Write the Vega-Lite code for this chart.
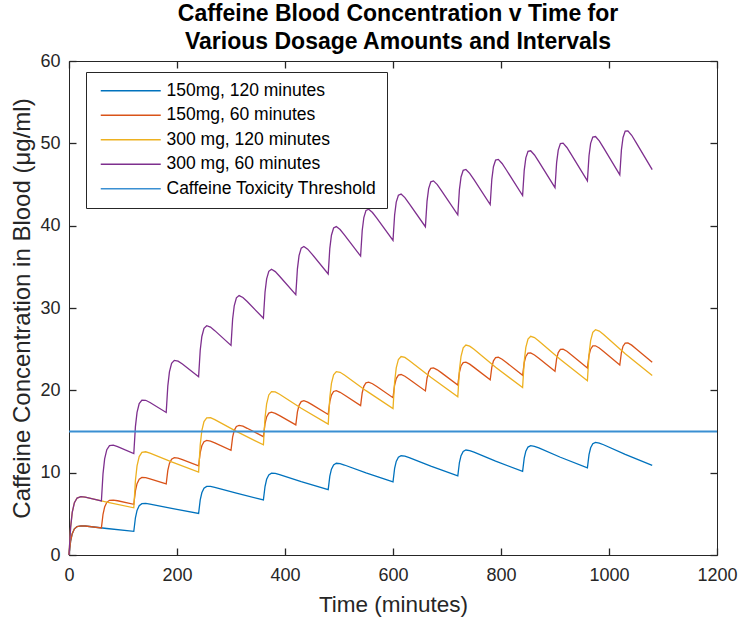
{
"$schema":"https://vega.github.io/schema/vega-lite/v6.json",
"width":648,"height":494,
"autosize":{"type":"none"},
"padding":{"left":69,"top":61,"right":26,"bottom":68},
"background":"#ffffff",
"title":{"text":["Caffeine Blood Concentration v Time for","Various Dosage Amounts and Intervals"],"anchor":"middle","font":"Liberation Sans","fontSize":23,"fontWeight":"bold","color":"#000000","lineHeight":27.6,"offset":-2,"dx":5},
"datasets":{
"blue":[{"s":"150mg, 120 minutes","t":0,"c":0},{"s":"150mg, 120 minutes","t":3,"c":1.68},{"s":"150mg, 120 minutes","t":6,"c":2.59},{"s":"150mg, 120 minutes","t":10,"c":3.18},{"s":"150mg, 120 minutes","t":15,"c":3.46},{"s":"150mg, 120 minutes","t":22,"c":3.54},{"s":"150mg, 120 minutes","t":30,"c":3.52},{"s":"150mg, 120 minutes","t":70,"c":3.22},
{"s":"150mg, 120 minutes","t":120,"c":2.87},{"s":"150mg, 120 minutes","t":123,"c":4.52},{"s":"150mg, 120 minutes","t":126,"c":5.41},{"s":"150mg, 120 minutes","t":130,"c":5.98},{"s":"150mg, 120 minutes","t":135,"c":6.23},{"s":"150mg, 120 minutes","t":142,"c":6.27},{"s":"150mg, 120 minutes","t":150,"c":6.19},{"s":"150mg, 120 minutes","t":190,"c":5.66},
{"s":"150mg, 120 minutes","t":240,"c":5.04},{"s":"150mg, 120 minutes","t":243,"c":6.69},{"s":"150mg, 120 minutes","t":246,"c":7.56},{"s":"150mg, 120 minutes","t":250,"c":8.11},{"s":"150mg, 120 minutes","t":255,"c":8.33},{"s":"150mg, 120 minutes","t":262,"c":8.34},{"s":"150mg, 120 minutes","t":270,"c":8.22},{"s":"150mg, 120 minutes","t":310,"c":7.51},
{"s":"150mg, 120 minutes","t":360,"c":6.69},{"s":"150mg, 120 minutes","t":363,"c":8.32},{"s":"150mg, 120 minutes","t":366,"c":9.19},{"s":"150mg, 120 minutes","t":370,"c":9.72},{"s":"150mg, 120 minutes","t":375,"c":9.93},{"s":"150mg, 120 minutes","t":382,"c":9.91},{"s":"150mg, 120 minutes","t":390,"c":9.76},{"s":"150mg, 120 minutes","t":430,"c":8.91},
{"s":"150mg, 120 minutes","t":480,"c":7.94},{"s":"150mg, 120 minutes","t":483,"c":9.57},{"s":"150mg, 120 minutes","t":486,"c":10.42},{"s":"150mg, 120 minutes","t":490,"c":10.94},{"s":"150mg, 120 minutes","t":495,"c":11.14},{"s":"150mg, 120 minutes","t":502,"c":11.10},{"s":"150mg, 120 minutes","t":510,"c":10.93},{"s":"150mg, 120 minutes","t":550,"c":9.98},
{"s":"150mg, 120 minutes","t":600,"c":8.89},{"s":"150mg, 120 minutes","t":603,"c":10.51},{"s":"150mg, 120 minutes","t":606,"c":11.36},{"s":"150mg, 120 minutes","t":610,"c":11.87},{"s":"150mg, 120 minutes","t":615,"c":12.05},{"s":"150mg, 120 minutes","t":622,"c":12.00},{"s":"150mg, 120 minutes","t":630,"c":11.82},{"s":"150mg, 120 minutes","t":670,"c":10.79},
{"s":"150mg, 120 minutes","t":720,"c":9.62},{"s":"150mg, 120 minutes","t":723,"c":11.23},{"s":"150mg, 120 minutes","t":726,"c":12.07},{"s":"150mg, 120 minutes","t":730,"c":12.58},{"s":"150mg, 120 minutes","t":735,"c":12.75},{"s":"150mg, 120 minutes","t":742,"c":12.68},{"s":"150mg, 120 minutes","t":750,"c":12.49},{"s":"150mg, 120 minutes","t":790,"c":11.40},
{"s":"150mg, 120 minutes","t":840,"c":10.16},{"s":"150mg, 120 minutes","t":843,"c":11.77},{"s":"150mg, 120 minutes","t":846,"c":12.61},{"s":"150mg, 120 minutes","t":850,"c":13.11},{"s":"150mg, 120 minutes","t":855,"c":13.28},{"s":"150mg, 120 minutes","t":862,"c":13.20},{"s":"150mg, 120 minutes","t":870,"c":13.00},{"s":"150mg, 120 minutes","t":910,"c":11.87},
{"s":"150mg, 120 minutes","t":960,"c":10.58},{"s":"150mg, 120 minutes","t":963,"c":12.18},{"s":"150mg, 120 minutes","t":966,"c":13.02},{"s":"150mg, 120 minutes","t":970,"c":13.52},{"s":"150mg, 120 minutes","t":975,"c":13.68},{"s":"150mg, 120 minutes","t":982,"c":13.60},{"s":"150mg, 120 minutes","t":990,"c":13.39},{"s":"150mg, 120 minutes","t":1030,"c":12.22},
{"s":"150mg, 120 minutes","t":1080,"c":10.89}],
"orange":[{"s":"150mg, 60 minutes","t":0,"c":0},{"s":"150mg, 60 minutes","t":3,"c":1.68},{"s":"150mg, 60 minutes","t":6,"c":2.59},{"s":"150mg, 60 minutes","t":10,"c":3.18},{"s":"150mg, 60 minutes","t":15,"c":3.46},{"s":"150mg, 60 minutes","t":22,"c":3.54},{"s":"150mg, 60 minutes","t":30,"c":3.52},
{"s":"150mg, 60 minutes","t":60,"c":3.29},{"s":"150mg, 60 minutes","t":63,"c":4.95},{"s":"150mg, 60 minutes","t":66,"c":5.83},{"s":"150mg, 60 minutes","t":70,"c":6.40},{"s":"150mg, 60 minutes","t":75,"c":6.64},{"s":"150mg, 60 minutes","t":82,"c":6.67},{"s":"150mg, 60 minutes","t":90,"c":6.59},
{"s":"150mg, 60 minutes","t":120,"c":6.16},{"s":"150mg, 60 minutes","t":123,"c":7.79},{"s":"150mg, 60 minutes","t":126,"c":8.66},{"s":"150mg, 60 minutes","t":130,"c":9.20},{"s":"150mg, 60 minutes","t":135,"c":9.41},{"s":"150mg, 60 minutes","t":142,"c":9.40},{"s":"150mg, 60 minutes","t":150,"c":9.26},
{"s":"150mg, 60 minutes","t":180,"c":8.65},{"s":"150mg, 60 minutes","t":183,"c":10.27},{"s":"150mg, 60 minutes","t":186,"c":11.12},{"s":"150mg, 60 minutes","t":190,"c":11.64},{"s":"150mg, 60 minutes","t":195,"c":11.82},{"s":"150mg, 60 minutes","t":202,"c":11.77},{"s":"150mg, 60 minutes","t":210,"c":11.59},
{"s":"150mg, 60 minutes","t":240,"c":10.83},{"s":"150mg, 60 minutes","t":243,"c":12.43},{"s":"150mg, 60 minutes","t":246,"c":13.27},{"s":"150mg, 60 minutes","t":250,"c":13.76},{"s":"150mg, 60 minutes","t":255,"c":13.92},{"s":"150mg, 60 minutes","t":262,"c":13.84},{"s":"150mg, 60 minutes","t":270,"c":13.62},
{"s":"150mg, 60 minutes","t":300,"c":12.72},{"s":"150mg, 60 minutes","t":303,"c":14.31},{"s":"150mg, 60 minutes","t":306,"c":15.14},{"s":"150mg, 60 minutes","t":310,"c":15.62},{"s":"150mg, 60 minutes","t":315,"c":15.75},{"s":"150mg, 60 minutes","t":322,"c":15.64},{"s":"150mg, 60 minutes","t":330,"c":15.39},
{"s":"150mg, 60 minutes","t":360,"c":14.37},{"s":"150mg, 60 minutes","t":363,"c":15.95},{"s":"150mg, 60 minutes","t":366,"c":16.77},{"s":"150mg, 60 minutes","t":370,"c":17.23},{"s":"150mg, 60 minutes","t":375,"c":17.35},{"s":"150mg, 60 minutes","t":382,"c":17.21},{"s":"150mg, 60 minutes","t":390,"c":16.93},
{"s":"150mg, 60 minutes","t":420,"c":15.81},{"s":"150mg, 60 minutes","t":423,"c":17.38},{"s":"150mg, 60 minutes","t":426,"c":18.18},{"s":"150mg, 60 minutes","t":430,"c":18.63},{"s":"150mg, 60 minutes","t":435,"c":18.74},{"s":"150mg, 60 minutes","t":442,"c":18.57},{"s":"150mg, 60 minutes","t":450,"c":18.27},
{"s":"150mg, 60 minutes","t":480,"c":17.06},{"s":"150mg, 60 minutes","t":483,"c":18.62},{"s":"150mg, 60 minutes","t":486,"c":19.42},{"s":"150mg, 60 minutes","t":490,"c":19.86},{"s":"150mg, 60 minutes","t":495,"c":19.95},{"s":"150mg, 60 minutes","t":502,"c":19.76},{"s":"150mg, 60 minutes","t":510,"c":19.44},
{"s":"150mg, 60 minutes","t":540,"c":18.15},{"s":"150mg, 60 minutes","t":543,"c":19.71},{"s":"150mg, 60 minutes","t":546,"c":20.49},{"s":"150mg, 60 minutes","t":550,"c":20.92},{"s":"150mg, 60 minutes","t":555,"c":21.00},{"s":"150mg, 60 minutes","t":562,"c":20.80},{"s":"150mg, 60 minutes","t":570,"c":20.46},
{"s":"150mg, 60 minutes","t":600,"c":19.11},{"s":"150mg, 60 minutes","t":603,"c":20.65},{"s":"150mg, 60 minutes","t":606,"c":21.43},{"s":"150mg, 60 minutes","t":610,"c":21.85},{"s":"150mg, 60 minutes","t":615,"c":21.92},{"s":"150mg, 60 minutes","t":622,"c":21.71},{"s":"150mg, 60 minutes","t":630,"c":21.35},
{"s":"150mg, 60 minutes","t":660,"c":19.93},{"s":"150mg, 60 minutes","t":663,"c":21.47},{"s":"150mg, 60 minutes","t":666,"c":22.25},{"s":"150mg, 60 minutes","t":670,"c":22.66},{"s":"150mg, 60 minutes","t":675,"c":22.72},{"s":"150mg, 60 minutes","t":682,"c":22.49},{"s":"150mg, 60 minutes","t":690,"c":22.12},
{"s":"150mg, 60 minutes","t":720,"c":20.65},{"s":"150mg, 60 minutes","t":723,"c":22.19},{"s":"150mg, 60 minutes","t":726,"c":22.96},{"s":"150mg, 60 minutes","t":730,"c":23.37},{"s":"150mg, 60 minutes","t":735,"c":23.42},{"s":"150mg, 60 minutes","t":742,"c":23.18},{"s":"150mg, 60 minutes","t":750,"c":22.79},
{"s":"150mg, 60 minutes","t":780,"c":21.28},{"s":"150mg, 60 minutes","t":783,"c":22.81},{"s":"150mg, 60 minutes","t":786,"c":23.58},{"s":"150mg, 60 minutes","t":790,"c":23.98},{"s":"150mg, 60 minutes","t":795,"c":24.02},{"s":"150mg, 60 minutes","t":802,"c":23.78},{"s":"150mg, 60 minutes","t":810,"c":23.38},
{"s":"150mg, 60 minutes","t":840,"c":21.83},{"s":"150mg, 60 minutes","t":843,"c":23.36},{"s":"150mg, 60 minutes","t":846,"c":24.12},{"s":"150mg, 60 minutes","t":850,"c":24.51},{"s":"150mg, 60 minutes","t":855,"c":24.55},{"s":"150mg, 60 minutes","t":862,"c":24.30},{"s":"150mg, 60 minutes","t":870,"c":23.89},
{"s":"150mg, 60 minutes","t":900,"c":22.31},{"s":"150mg, 60 minutes","t":903,"c":23.83},{"s":"150mg, 60 minutes","t":906,"c":24.59},{"s":"150mg, 60 minutes","t":910,"c":24.98},{"s":"150mg, 60 minutes","t":915,"c":25.01},{"s":"150mg, 60 minutes","t":922,"c":24.75},{"s":"150mg, 60 minutes","t":930,"c":24.33},
{"s":"150mg, 60 minutes","t":960,"c":22.72},{"s":"150mg, 60 minutes","t":963,"c":24.24},{"s":"150mg, 60 minutes","t":966,"c":25.00},{"s":"150mg, 60 minutes","t":970,"c":25.39},{"s":"150mg, 60 minutes","t":975,"c":25.41},{"s":"150mg, 60 minutes","t":982,"c":25.14},{"s":"150mg, 60 minutes","t":990,"c":24.72},
{"s":"150mg, 60 minutes","t":1020,"c":23.08},{"s":"150mg, 60 minutes","t":1023,"c":24.60},{"s":"150mg, 60 minutes","t":1026,"c":25.36},{"s":"150mg, 60 minutes","t":1030,"c":25.74},{"s":"150mg, 60 minutes","t":1035,"c":25.76},{"s":"150mg, 60 minutes","t":1042,"c":25.49},{"s":"150mg, 60 minutes","t":1050,"c":25.06},
{"s":"150mg, 60 minutes","t":1080,"c":23.40}],
"yellow":[{"s":"300 mg, 120 minutes","t":0,"c":0},{"s":"300 mg, 120 minutes","t":3,"c":3.36},{"s":"300 mg, 120 minutes","t":6,"c":5.18},{"s":"300 mg, 120 minutes","t":10,"c":6.36},{"s":"300 mg, 120 minutes","t":15,"c":6.92},{"s":"300 mg, 120 minutes","t":22,"c":7.09},{"s":"300 mg, 120 minutes","t":30,"c":7.03},{"s":"300 mg, 120 minutes","t":70,"c":6.43},
{"s":"300 mg, 120 minutes","t":120,"c":5.73},{"s":"300 mg, 120 minutes","t":123,"c":9.05},{"s":"300 mg, 120 minutes","t":126,"c":10.83},{"s":"300 mg, 120 minutes","t":130,"c":11.96},{"s":"300 mg, 120 minutes","t":135,"c":12.46},{"s":"300 mg, 120 minutes","t":142,"c":12.54},{"s":"300 mg, 120 minutes","t":150,"c":12.38},{"s":"300 mg, 120 minutes","t":190,"c":11.31},
{"s":"300 mg, 120 minutes","t":240,"c":10.08},{"s":"300 mg, 120 minutes","t":243,"c":13.37},{"s":"300 mg, 120 minutes","t":246,"c":15.12},{"s":"300 mg, 120 minutes","t":250,"c":16.21},{"s":"300 mg, 120 minutes","t":255,"c":16.66},{"s":"300 mg, 120 minutes","t":262,"c":16.67},{"s":"300 mg, 120 minutes","t":270,"c":16.44},{"s":"300 mg, 120 minutes","t":310,"c":15.01},
{"s":"300 mg, 120 minutes","t":360,"c":13.38},{"s":"300 mg, 120 minutes","t":363,"c":16.65},{"s":"300 mg, 120 minutes","t":366,"c":18.37},{"s":"300 mg, 120 minutes","t":370,"c":19.44},{"s":"300 mg, 120 minutes","t":375,"c":19.85},{"s":"300 mg, 120 minutes","t":382,"c":19.81},{"s":"300 mg, 120 minutes","t":390,"c":19.52},{"s":"300 mg, 120 minutes","t":430,"c":17.82},
{"s":"300 mg, 120 minutes","t":480,"c":15.89},{"s":"300 mg, 120 minutes","t":483,"c":19.14},{"s":"300 mg, 120 minutes","t":486,"c":20.84},{"s":"300 mg, 120 minutes","t":490,"c":21.89},{"s":"300 mg, 120 minutes","t":495,"c":22.27},{"s":"300 mg, 120 minutes","t":502,"c":22.19},{"s":"300 mg, 120 minutes","t":510,"c":21.86},{"s":"300 mg, 120 minutes","t":550,"c":19.96},
{"s":"300 mg, 120 minutes","t":600,"c":17.79},{"s":"300 mg, 120 minutes","t":603,"c":21.02},{"s":"300 mg, 120 minutes","t":606,"c":22.72},{"s":"300 mg, 120 minutes","t":610,"c":23.75},{"s":"300 mg, 120 minutes","t":615,"c":24.11},{"s":"300 mg, 120 minutes","t":622,"c":24.00},{"s":"300 mg, 120 minutes","t":630,"c":23.63},{"s":"300 mg, 120 minutes","t":670,"c":21.58},
{"s":"300 mg, 120 minutes","t":720,"c":19.23},{"s":"300 mg, 120 minutes","t":723,"c":22.45},{"s":"300 mg, 120 minutes","t":726,"c":24.14},{"s":"300 mg, 120 minutes","t":730,"c":25.16},{"s":"300 mg, 120 minutes","t":735,"c":25.50},{"s":"300 mg, 120 minutes","t":742,"c":25.37},{"s":"300 mg, 120 minutes","t":750,"c":24.98},{"s":"300 mg, 120 minutes","t":790,"c":22.80},
{"s":"300 mg, 120 minutes","t":840,"c":20.33},{"s":"300 mg, 120 minutes","t":843,"c":23.54},{"s":"300 mg, 120 minutes","t":846,"c":25.22},{"s":"300 mg, 120 minutes","t":850,"c":26.23},{"s":"300 mg, 120 minutes","t":855,"c":26.56},{"s":"300 mg, 120 minutes","t":862,"c":26.41},{"s":"300 mg, 120 minutes","t":870,"c":26.00},{"s":"300 mg, 120 minutes","t":910,"c":23.74},
{"s":"300 mg, 120 minutes","t":960,"c":21.16},{"s":"300 mg, 120 minutes","t":963,"c":24.37},{"s":"300 mg, 120 minutes","t":966,"c":26.04},{"s":"300 mg, 120 minutes","t":970,"c":27.04},{"s":"300 mg, 120 minutes","t":975,"c":27.36},{"s":"300 mg, 120 minutes","t":982,"c":27.20},{"s":"300 mg, 120 minutes","t":990,"c":26.78},{"s":"300 mg, 120 minutes","t":1030,"c":24.44},
{"s":"300 mg, 120 minutes","t":1080,"c":21.79}],
"purple":[{"s":"300 mg, 60 minutes","t":0,"c":0},{"s":"300 mg, 60 minutes","t":3,"c":3.36},{"s":"300 mg, 60 minutes","t":6,"c":5.18},{"s":"300 mg, 60 minutes","t":10,"c":6.36},{"s":"300 mg, 60 minutes","t":15,"c":6.92},{"s":"300 mg, 60 minutes","t":22,"c":7.09},{"s":"300 mg, 60 minutes","t":30,"c":7.03},
{"s":"300 mg, 60 minutes","t":60,"c":6.58},{"s":"300 mg, 60 minutes","t":63,"c":9.89},{"s":"300 mg, 60 minutes","t":66,"c":11.67},{"s":"300 mg, 60 minutes","t":70,"c":12.79},{"s":"300 mg, 60 minutes","t":75,"c":13.28},{"s":"300 mg, 60 minutes","t":82,"c":13.34},{"s":"300 mg, 60 minutes","t":90,"c":13.17},
{"s":"300 mg, 60 minutes","t":120,"c":12.31},{"s":"300 mg, 60 minutes","t":123,"c":15.59},{"s":"300 mg, 60 minutes","t":126,"c":17.32},{"s":"300 mg, 60 minutes","t":130,"c":18.40},{"s":"300 mg, 60 minutes","t":135,"c":18.82},{"s":"300 mg, 60 minutes","t":142,"c":18.79},{"s":"300 mg, 60 minutes","t":150,"c":18.52},
{"s":"300 mg, 60 minutes","t":180,"c":17.31},{"s":"300 mg, 60 minutes","t":183,"c":20.55},{"s":"300 mg, 60 minutes","t":186,"c":22.25},{"s":"300 mg, 60 minutes","t":190,"c":23.28},{"s":"300 mg, 60 minutes","t":195,"c":23.64},{"s":"300 mg, 60 minutes","t":202,"c":23.54},{"s":"300 mg, 60 minutes","t":210,"c":23.19},
{"s":"300 mg, 60 minutes","t":240,"c":21.66},{"s":"300 mg, 60 minutes","t":243,"c":24.87},{"s":"300 mg, 60 minutes","t":246,"c":26.54},{"s":"300 mg, 60 minutes","t":250,"c":27.53},{"s":"300 mg, 60 minutes","t":255,"c":27.85},{"s":"300 mg, 60 minutes","t":262,"c":27.68},{"s":"300 mg, 60 minutes","t":270,"c":27.25},
{"s":"300 mg, 60 minutes","t":300,"c":25.45},{"s":"300 mg, 60 minutes","t":303,"c":28.63},{"s":"300 mg, 60 minutes","t":306,"c":30.27},{"s":"300 mg, 60 minutes","t":310,"c":31.23},{"s":"300 mg, 60 minutes","t":315,"c":31.51},{"s":"300 mg, 60 minutes","t":322,"c":31.28},{"s":"300 mg, 60 minutes","t":330,"c":30.78},
{"s":"300 mg, 60 minutes","t":360,"c":28.75},{"s":"300 mg, 60 minutes","t":363,"c":31.91},{"s":"300 mg, 60 minutes","t":366,"c":33.53},{"s":"300 mg, 60 minutes","t":370,"c":34.46},{"s":"300 mg, 60 minutes","t":375,"c":34.70},{"s":"300 mg, 60 minutes","t":382,"c":34.42},{"s":"300 mg, 60 minutes","t":390,"c":33.86},
{"s":"300 mg, 60 minutes","t":420,"c":31.62},{"s":"300 mg, 60 minutes","t":423,"c":34.76},{"s":"300 mg, 60 minutes","t":426,"c":36.37},{"s":"300 mg, 60 minutes","t":430,"c":37.27},{"s":"300 mg, 60 minutes","t":435,"c":37.47},{"s":"300 mg, 60 minutes","t":442,"c":37.15},{"s":"300 mg, 60 minutes","t":450,"c":36.55},
{"s":"300 mg, 60 minutes","t":480,"c":34.13},{"s":"300 mg, 60 minutes","t":483,"c":37.25},{"s":"300 mg, 60 minutes","t":486,"c":38.84},{"s":"300 mg, 60 minutes","t":490,"c":39.71},{"s":"300 mg, 60 minutes","t":495,"c":39.89},{"s":"300 mg, 60 minutes","t":502,"c":39.53},{"s":"300 mg, 60 minutes","t":510,"c":38.88},
{"s":"300 mg, 60 minutes","t":540,"c":36.31},{"s":"300 mg, 60 minutes","t":543,"c":39.42},{"s":"300 mg, 60 minutes","t":546,"c":40.99},{"s":"300 mg, 60 minutes","t":550,"c":41.85},{"s":"300 mg, 60 minutes","t":555,"c":42.00},{"s":"300 mg, 60 minutes","t":562,"c":41.60},{"s":"300 mg, 60 minutes","t":570,"c":40.92},
{"s":"300 mg, 60 minutes","t":600,"c":38.21},{"s":"300 mg, 60 minutes","t":603,"c":41.30},{"s":"300 mg, 60 minutes","t":606,"c":42.86},{"s":"300 mg, 60 minutes","t":610,"c":43.70},{"s":"300 mg, 60 minutes","t":615,"c":43.84},{"s":"300 mg, 60 minutes","t":622,"c":43.41},{"s":"300 mg, 60 minutes","t":630,"c":42.69},
{"s":"300 mg, 60 minutes","t":660,"c":39.87},{"s":"300 mg, 60 minutes","t":663,"c":42.95},{"s":"300 mg, 60 minutes","t":666,"c":44.50},{"s":"300 mg, 60 minutes","t":670,"c":45.32},{"s":"300 mg, 60 minutes","t":675,"c":45.44},{"s":"300 mg, 60 minutes","t":682,"c":44.99},{"s":"300 mg, 60 minutes","t":690,"c":44.24},
{"s":"300 mg, 60 minutes","t":720,"c":41.31},{"s":"300 mg, 60 minutes","t":723,"c":44.38},{"s":"300 mg, 60 minutes","t":726,"c":45.92},{"s":"300 mg, 60 minutes","t":730,"c":46.73},{"s":"300 mg, 60 minutes","t":735,"c":46.83},{"s":"300 mg, 60 minutes","t":742,"c":46.36},{"s":"300 mg, 60 minutes","t":750,"c":45.59},
{"s":"300 mg, 60 minutes","t":780,"c":42.57},{"s":"300 mg, 60 minutes","t":783,"c":45.63},{"s":"300 mg, 60 minutes","t":786,"c":47.16},{"s":"300 mg, 60 minutes","t":790,"c":47.96},{"s":"300 mg, 60 minutes","t":795,"c":48.05},{"s":"300 mg, 60 minutes","t":802,"c":47.55},{"s":"300 mg, 60 minutes","t":810,"c":46.76},
{"s":"300 mg, 60 minutes","t":840,"c":43.66},{"s":"300 mg, 60 minutes","t":843,"c":46.72},{"s":"300 mg, 60 minutes","t":846,"c":48.24},{"s":"300 mg, 60 minutes","t":850,"c":49.03},{"s":"300 mg, 60 minutes","t":855,"c":49.10},{"s":"300 mg, 60 minutes","t":862,"c":48.59},{"s":"300 mg, 60 minutes","t":870,"c":47.78},
{"s":"300 mg, 60 minutes","t":900,"c":44.61},{"s":"300 mg, 60 minutes","t":903,"c":47.66},{"s":"300 mg, 60 minutes","t":906,"c":49.18},{"s":"300 mg, 60 minutes","t":910,"c":49.96},{"s":"300 mg, 60 minutes","t":915,"c":50.02},{"s":"300 mg, 60 minutes","t":922,"c":49.50},{"s":"300 mg, 60 minutes","t":930,"c":48.67},
{"s":"300 mg, 60 minutes","t":960,"c":45.44},{"s":"300 mg, 60 minutes","t":963,"c":48.49},{"s":"300 mg, 60 minutes","t":966,"c":50.00},{"s":"300 mg, 60 minutes","t":970,"c":50.77},{"s":"300 mg, 60 minutes","t":975,"c":50.83},{"s":"300 mg, 60 minutes","t":982,"c":50.29},{"s":"300 mg, 60 minutes","t":990,"c":49.44},
{"s":"300 mg, 60 minutes","t":1020,"c":46.17},{"s":"300 mg, 60 minutes","t":1023,"c":49.21},{"s":"300 mg, 60 minutes","t":1026,"c":50.71},{"s":"300 mg, 60 minutes","t":1030,"c":51.48},{"s":"300 mg, 60 minutes","t":1035,"c":51.52},{"s":"300 mg, 60 minutes","t":1042,"c":50.98},{"s":"300 mg, 60 minutes","t":1050,"c":50.12},
{"s":"300 mg, 60 minutes","t":1080,"c":46.80}],
"threshold":[{"s":"Caffeine Toxicity Threshold","t":0,"c":15},{"s":"Caffeine Toxicity Threshold","t":1200,"c":15}]
},
"layer":[
{"data":{"name":"blue"},"mark":{"type":"line","strokeWidth":1.3},
 "encoding":{
  "x":{"field":"t","type":"quantitative","scale":{"domain":[0,1200],"nice":false},"axis":{"orient":"bottom","values":[0,200,400,600,800,1000,1200],"format":"d","labelPadding":18,"title":"Time (minutes)","titleFontSize":22.5,"titlePadding":9}},
  "y":{"field":"c","type":"quantitative","scale":{"domain":[0,60],"nice":false},"axis":{"orient":"left","values":[0,10,20,30,40,50,60],"format":"d","title":"Caffeine Concentration in Blood (μg/ml)","titleFontSize":24,"titlePadding":5}},
  "color":{"field":"s","type":"nominal","title":null,"scale":{"domain":["150mg, 120 minutes","150mg, 60 minutes","300 mg, 120 minutes","300 mg, 60 minutes","Caffeine Toxicity Threshold"],"range":["#0072BD","#D95319","#EDB120","#7E2F8E","#3A8FD2"]}}}},
{"data":{"name":"orange"},"mark":{"type":"line","strokeWidth":1.3},
 "encoding":{
  "x":{"field":"t","type":"quantitative","axis":null},
  "y":{"field":"c","type":"quantitative","axis":null},
  "color":{"field":"s","type":"nominal","title":null}}},
{"data":{"name":"yellow"},"mark":{"type":"line","strokeWidth":1.3},
 "encoding":{
  "x":{"field":"t","type":"quantitative","axis":null},
  "y":{"field":"c","type":"quantitative","axis":null},
  "color":{"field":"s","type":"nominal","title":null}}},
{"data":{"name":"purple"},"mark":{"type":"line","strokeWidth":1.3},
 "encoding":{
  "x":{"field":"t","type":"quantitative","axis":null},
  "y":{"field":"c","type":"quantitative","axis":null},
  "color":{"field":"s","type":"nominal","title":null}}},
{"data":{"name":"threshold"},"mark":{"type":"line","strokeWidth":2},
 "encoding":{
  "x":{"field":"t","type":"quantitative","axis":{"orient":"top","values":[0,200,400,600,800,1000,1200],"labels":false,"title":null}},
  "y":{"field":"c","type":"quantitative","axis":{"orient":"right","values":[0,10,20,30,40,50,60],"labels":false,"title":null}},
  "color":{"field":"s","type":"nominal","title":null}}}
],
"resolve":{"axis":{"x":"independent","y":"independent"}},
"config":{
 "view":{"stroke":null},
 "axis":{"domainColor":"#262626","domainWidth":1,"tickColor":"#262626","tickWidth":1.3,"tickSize":-7,"labelColor":"#262626","labelFont":"Liberation Sans","labelFontSize":18,"labelPadding":16,"labelFlush":false,"labelOverlap":false,"titleFont":"Liberation Sans","titleFontSize":22,"titleFontWeight":"normal","titleColor":"#262626","grid":false},
 "legend":{"orient":"none","legendX":17,"legendY":11,"padding":10,"strokeColor":"#262626","fillColor":"#ffffff","labelFont":"Liberation Sans","labelFontSize":17.5,"labelColor":"#000000","symbolType":"M-5,0H5","symbolSize":144,"symbolStrokeWidth":1.5,"symbolOffset":26,"labelOffset":27,"rowPadding":5.5,"labelLimit":400}
}
}
